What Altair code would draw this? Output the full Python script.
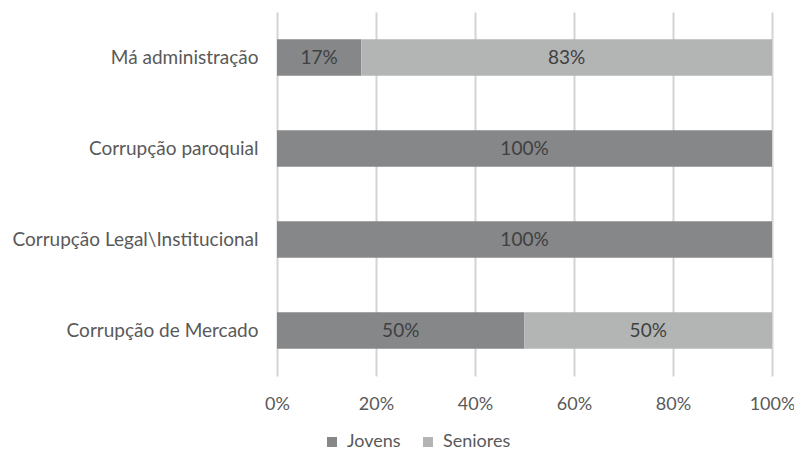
import altair as alt
import pandas as pd

categories = ["Má administração", "Corrupção paroquial", "Corrupção Legal\\Institucional", "Corrupção de Mercado"]
jovens = [17, 100, 100, 50]
seniores = [83, 0, 0, 50]
series = ["Jovens", "Seniores"]
colors = ["#858789", "#b3b5b5"]

rows = []
for c, j, s in zip(categories, jovens, seniores):
    rows.append({"cat": c, "grupo": "Jovens", "ord": 0, "v": j})
    rows.append({"cat": c, "grupo": "Seniores", "ord": 1, "v": s})
df = pd.DataFrame(rows)

FONT = "Lato"
FS = 18

base = alt.Chart(df).transform_stack(
    stack="v", groupby=["cat"], as_=["v0", "v1"], sort=[alt.SortField("ord")], offset="normalize"
).transform_calculate(
    mid="(datum.v0 + datum.v1) / 2", lbl="datum.v + '%'"
)

yenc = alt.Y("cat:N", sort=categories, title=None,
             scale=alt.Scale(paddingInner=0.6, paddingOuter=0.3),
             axis=alt.Axis(domain=False, ticks=False, labelPadding=19, labelFontSize=19, labelLimit=400,
                           labelFont=FONT, labelColor="#595959", grid=False))

bars = base.mark_bar().encode(
    y=yenc,
    x=alt.X("v0:Q", scale=alt.Scale(domain=[0, 1]), title=None,
            axis=alt.Axis(format="%", values=[0, 0.2, 0.4, 0.6, 0.8, 1.0], domain=False, ticks=False,
                          labelFlush=False,
                          labelPadding=19, labelFontSize=FS, labelFont=FONT, labelColor="#595959",
                          grid=True, gridColor="#d4d4d4", gridWidth=2)),
    x2="v1:Q",
    color=alt.Color("grupo:N", scale=alt.Scale(domain=series, range=colors), title=None,
                    legend=alt.Legend(orient="none", direction="horizontal", legendX=46, legendY=421,
                                      symbolType="square", symbolSize=100, symbolStrokeWidth=0,
                                      labelFontSize=FS, labelFont=FONT, labelColor="#595959",
                                      columnPadding=18, labelOffset=6)),
)

texts = base.transform_filter("datum.v > 0").mark_text(fontSize=19, font=FONT, color="#404040").encode(
    y=alt.Y("cat:N", sort=categories),
    x=alt.X("mid:Q"),
    text="lbl:N",
)

chart = (bars + texts).properties(
    width=495, height=364,
    background="white",
    autosize=alt.AutoSizeParams(type="none"),
    padding={"left": 269, "top": 4, "right": 22, "bottom": 77},
).configure_view(strokeWidth=0)

chart.save("out.html", embed_options={"renderer": "svg", "actions": False})
